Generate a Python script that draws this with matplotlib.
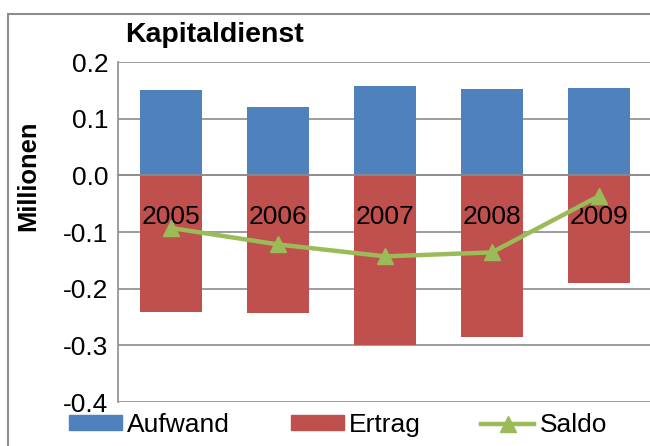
import matplotlib
matplotlib.use("Agg")
import matplotlib.pyplot as plt
from matplotlib.patches import Rectangle
from matplotlib.lines import Line2D
from matplotlib.patches import Patch

years = ["2005", "2006", "2007", "2008", "2009"]
aufwand = [0.150, 0.120, 0.157, 0.152, 0.155]
ertrag = [-0.242, -0.243, -0.300, -0.286, -0.190]
saldo = [-0.093, -0.122, -0.143, -0.136, -0.037]
yticks = [0.2, 0.1, 0.0, -0.1, -0.2, -0.3, -0.4]

plt.rcParams['font.family'] = ['Liberation Sans', 'DejaVu Sans']
FS = 19

fig = plt.figure(figsize=(6.5, 4.46), dpi=100)
ax = fig.add_axes([118/650, 1-402/446, 534/650, 340/446])

x = list(range(len(years)))
ax.bar(x, aufwand, width=0.58, color='#4F81BD', zorder=2)
ax.bar(x, ertrag, width=0.58, color='#C0504D', zorder=2)
ax.plot(x, saldo, color='#9BBB59', lw=3.2, marker='^', markersize=12, zorder=3)

for s in ['top', 'right']:
    ax.spines[s].set_visible(False)
ax.spines['bottom'].set_position(('data', 0))
ax.spines['bottom'].set_color('#8C8C8C')
ax.spines['bottom'].set_linewidth(1.2)
ax.spines['bottom'].set_zorder(2.2)
ax.spines['left'].set_color('#8C8C8C')
ax.spines['left'].set_linewidth(1.2)

ax.set_xlim(-0.5, len(years)-0.5)
ax.set_ylim(-0.4, 0.2)
ax.set_yticks(yticks)
ax.set_yticklabels([f"{v:.1f}" for v in yticks])
ax.set_xticks(x)
ax.set_xticklabels(years)
ax.yaxis.grid(True, color='#8C8C8C', lw=1.2)
ax.set_axisbelow(True)
ax.xaxis.set_zorder(2.5)
ax.tick_params(axis='x', length=0, pad=21, labelsize=FS)
ax.tick_params(axis='y', length=0, pad=7, labelsize=FS)

fig.text(125/650, 1-35/446, "Kapitaldienst", fontsize=20.5, fontweight='bold', va='center', ha='left')
fig.text(28/650, 1-176/446, "Millionen", fontsize=18.4, fontweight='bold', rotation=90, va='center', ha='center')

# outer chart border
fig.patches.append(Rectangle((8/650, -0.1), 1.2, 1-14/446+0.1, transform=fig.transFigure,
                             fill=False, edgecolor='#8C8C8C', lw=1.5))

handles = [Patch(color='#4F81BD', label='Aufwand'),
           Patch(color='#C0504D', label='Ertrag'),
           Line2D([], [], color='#9BBB59', lw=3.2, marker='^', markersize=12, label='Saldo')]
fig.legend(handles=handles, loc='center', bbox_to_anchor=(338/650, 1-425/446), ncol=3,
           frameon=False, fontsize=FS, handlelength=2.0, handletextpad=0.2, columnspacing=2.3,
           handleheight=0.5, borderpad=0, borderaxespad=0)

fig.savefig("out.png", dpi=100)
